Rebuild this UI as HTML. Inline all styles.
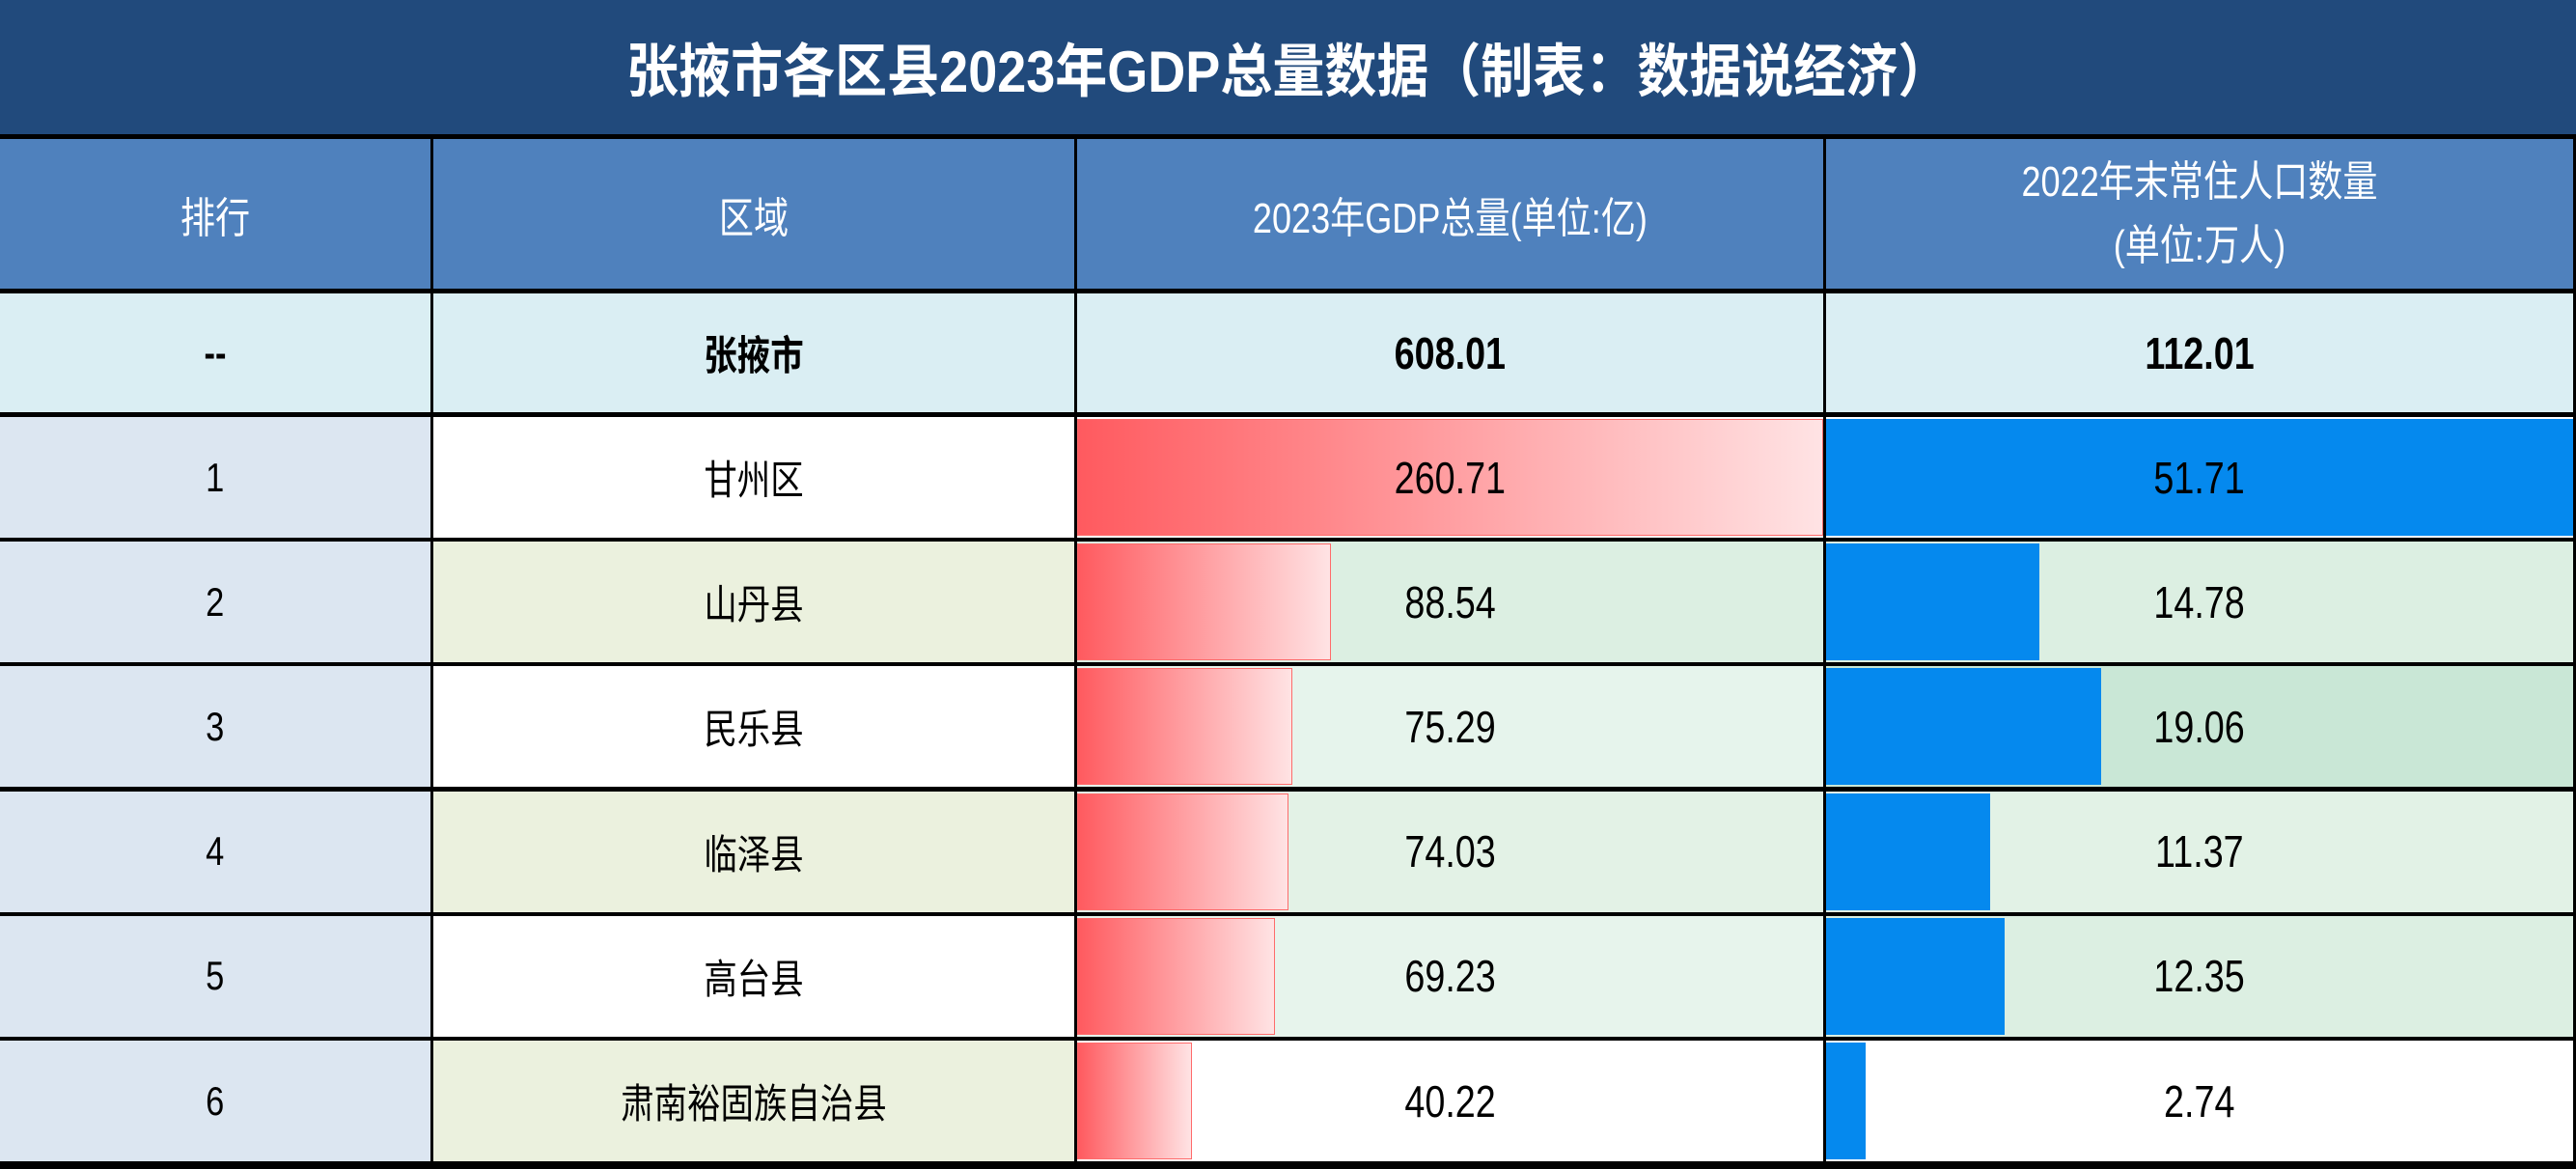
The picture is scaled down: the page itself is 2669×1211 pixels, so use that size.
<!DOCTYPE html>
<html><head><meta charset="utf-8">
<style>
body{margin:0;width:2669px;height:1211px;background:#000;overflow:hidden;font-family:"Liberation Sans","Noto Sans CJK SC",sans-serif;}
#wrap{position:relative;width:2669px;height:1211px;background:#000;}
.c{position:absolute;display:flex;align-items:center;justify-content:center;box-sizing:border-box;}
.t{position:relative;z-index:2;transform:scaleX(0.82);white-space:nowrap;}
</style></head><body>
<div id="wrap">
<div class="c" style="left:0;top:0;width:2669px;height:139px;background:#214a7c;color:#fff;font-size:60px;font-weight:bold;"><span class="t" style="transform:scaleX(0.9)">张掖市各区县2023年GDP总量数据（制表：数据说经济）</span></div>
</div>
<script>
const regions=["甘州区","山丹县","民乐县","临泽县","高台县","肃南裕固族自治县"];
const gdp=[260.71,88.54,75.29,74.03,69.23,40.22];
const pop=[51.71,14.78,19.06,11.37,12.35,2.74];
const totalGdp="608.01";
const totalPop="112.01";
const W=document.getElementById('wrap');
const X=[0,449,1116,1892,2669];
function cell(x0,x1,y0,y1,bg,txt,opts){
  const d=document.createElement('div');d.className='c';
  d.style.left=X[x0]+'px';d.style.width=(X[x1]-X[x0]-3)+'px';
  d.style.top=y0+'px';d.style.height=(y1-y0)+'px';d.style.background=bg;
  d.style.color=opts.color||'#000';d.style.fontSize=(opts.size||42)+'px';
  if(opts.bold)d.style.fontWeight='bold';
  const s=document.createElement('span');s.className='t';s.innerHTML=txt;
  d.appendChild(s);W.appendChild(d);return d;
}
let h;
h=cell(0,1,144,299,'#4f81bd','排行',{color:'#fff',size:44});

h=cell(1,2,144,299,'#4f81bd','区域',{color:'#fff',size:44});

h=cell(2,3,144,299,'#4f81bd','2023年GDP总量(单位:亿)',{color:'#fff',size:44});

h=cell(3,4,144,299,'#4f81bd','<div style="text-align:center;line-height:66px">2022年末常住人口数量<br>(单位:万人)</div>',{color:'#fff',size:44});

h=cell(0,1,304,427,'#daeef3','--',{size:42,bold:true});

h=cell(1,2,304,427,'#daeef3','张掖市',{size:42,bold:true});

h=cell(2,3,304,427,'#daeef3',totalGdp,{size:46,bold:true});

h=cell(3,4,304,427,'#daeef3',totalPop,{size:46,bold:true});

const gMax=Math.max(...gdp),pMax=Math.max(...pop);
const regBg=['#ffffff','#ebf1de'];
const gBg=['#ffffff','#dcefe2','#e6f4ec','#e3f2e6','#e7f4ec','#ffffff'];
const pBg=['#ffffff','#dcefe2','#c9e7d6','#e2f2e6','#dcefe2','#ffffff'];
regions.forEach((r,i)=>{
  const y0=432+i*129.2, y1=y0+125;
  let c=cell(0,1,y0,y1,'#dce6f1',String(i+1),{size:42});
  
  c=cell(1,2,y0,y1,regBg[i%2],r,{size:42});
  
  c=cell(2,3,y0,y1,gBg[i],gdp[i].toFixed(2),{size:46});
  
  const b=document.createElement('div');
  
  
  const gw=(X[3]-X[2]-3)*gdp[i]/gMax;
  b.style.cssText='position:absolute;left:0;top:2px;bottom:2px;width:'+gw+'px;background:linear-gradient(to right,#ff5a5f,#ffe3e4);border:1px solid #ff6b6b;box-sizing:border-box;';
  c.appendChild(b);
  c=cell(3,4,y0,y1,pBg[i],pop[i].toFixed(2),{size:46});
  
  const p=document.createElement('div');
  
  
  const pw=(X[4]-X[3]-3)*pop[i]/pMax;
  p.style.cssText='position:absolute;left:0;top:2px;bottom:2px;width:'+pw+'px;background:#0589ee;';
  c.appendChild(p);
});
</script>
</body></html>
